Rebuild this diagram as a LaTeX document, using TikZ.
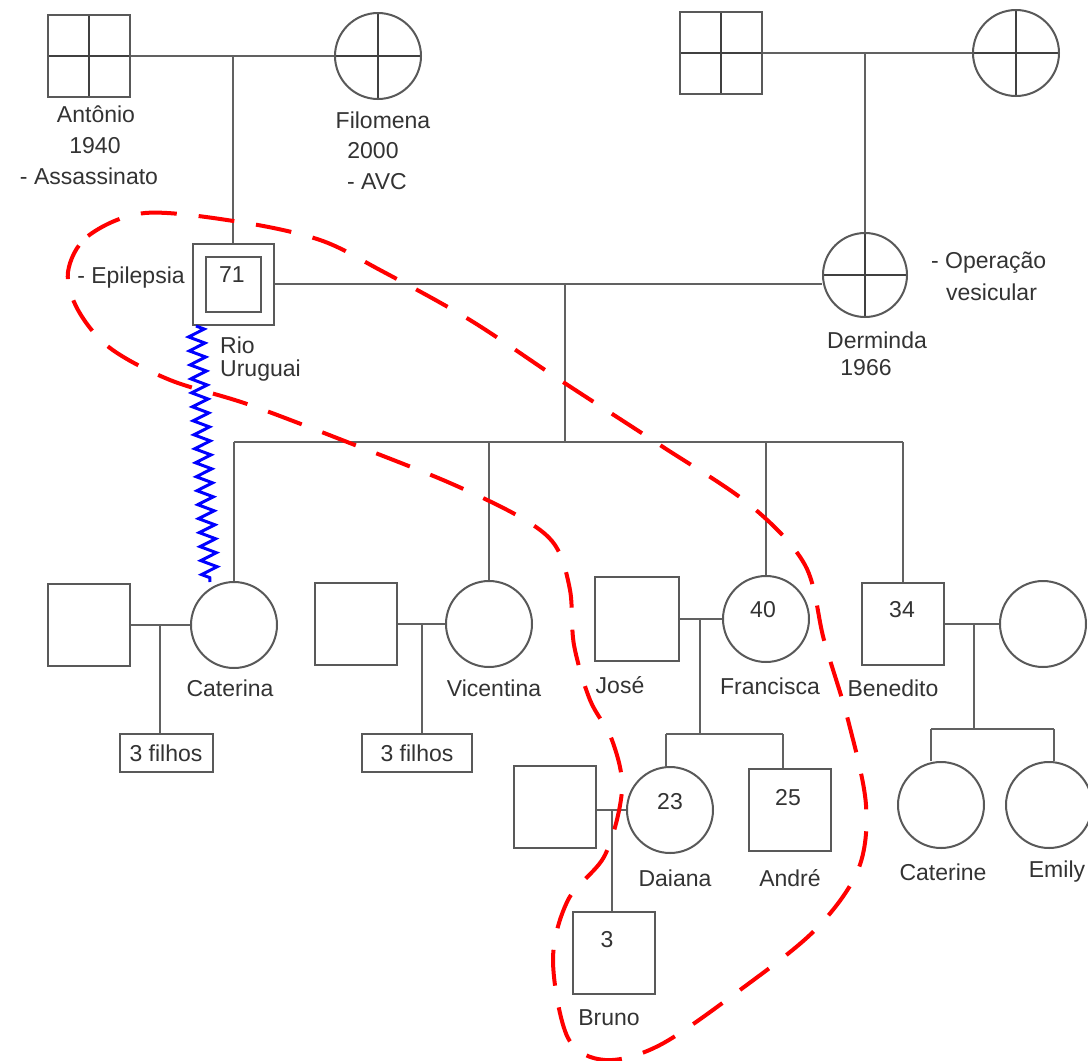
\documentclass[tikz,border=0pt]{standalone}
\usepackage{fontspec}
\setmainfont{Liberation Sans}
\usetikzlibrary{decorations.pathmorphing}
\begin{document}
\begin{tikzpicture}[x=1pt,y=-1pt,
  ln/.style={draw=black!62, line width=2pt},
  male/.style={draw=black!65, line width=2pt, rectangle, minimum size=82pt, inner sep=0pt},
  female/.style={draw=black!65, line width=2pt, circle, minimum size=86pt, inner sep=0pt},
  dead/.style={path picture={\draw[black!75,line width=2pt] (path picture bounding box.north) -- (path picture bounding box.south) (path picture bounding box.west) -- (path picture bounding box.east);}},
  lbl/.style={font=\fontsize{23}{27}\selectfont, text=black!80, inner sep=0pt},
  fbox/.style={draw=black!65, line width=2pt, rectangle, minimum height=38pt, inner sep=0pt, font=\fontsize{23}{27}\selectfont, text=black!80},
  zig/.style={draw=blue, line width=3pt, decorate, decoration={zigzag, segment length=14pt, amplitude=8pt}},
  loop/.style={draw=red, line width=4pt, dash pattern=on 36pt off 22pt}
]
\useasboundingbox[fill=white] (0,0) rectangle (1088,1061);

% generation I
\node[male,dead] (antonio) at (89,56) {};
\node[female,dead] (filomena) at (378,56) {};
\node[male,dead] (gfm) at (721,53) {};
\node[female,dead] (gfw) at (1016,53) {};
\draw[ln] (antonio) -- (filomena);
\draw[ln] (gfm) -- (gfw);
\node[lbl] (tant) at (96,114) {Antônio};
\node[lbl] (tant2) at (95,146) {1940};
\node[lbl] (tant3) at (89,176) {- Assassinato};
\node[lbl] (tfil) at (383,120) {Filomena};
\node[lbl] (tfil2) at (373,151) {2000};
\node[lbl] (tfil3) at (377,182) {- AVC};

% generation II
\node[male, minimum size=81pt] (p71) at (233,284) {};
\node[male, minimum size=55pt] (p71in) at (233,284) {};
\node[lbl] (t71) at (232,275) {71};
\node[female,dead,minimum size=84pt] (derminda) at (865,275) {};
\coordinate (c1) at (233,56);
\coordinate (c2) at (865,53);
\draw[ln] (c1) -- (p71);
\draw[ln] (c2) -- (derminda);
\draw[ln] (p71.east) -- (p71.east -| derminda.west);
\node[lbl] (tepi) at (131,278) {- Epilepsia};
\node[lbl, anchor=west] (trio) at (220,345) {Rio};
\node[lbl, anchor=west] (truru) at (220,371) {Uruguai};
\node[lbl, anchor=west] (top1) at (931,263) {- Operação};
\node[lbl, anchor=west] (top2) at (946,292) {vesicular};
\node[lbl] (tder) at (877,340) {Derminda};
\node[lbl] (tder2) at (866,368) {1966};

% generation III
\coordinate (c3) at (565,284);
\coordinate (bar1) at (565,442);
\draw[ln] (c3) -- (bar1);
\node[male] (hcat) at (89,625) {};
\node[female] (caterina) at (234,625) {};
\node[male] (hvic) at (356,624) {};
\node[female] (vicentina) at (489,624) {};
\node[male, minimum size=84pt] (jose) at (637,619) {};
\node[female] (francisca) at (766,619) {};
\node[male] (benedito) at (903,624) {};
\node[female] (bwife) at (1043,624) {};
\draw[ln] (caterina.north |- bar1) -- (benedito.north |- bar1);
\draw[ln] (caterina.north |- bar1) -- (caterina.north);
\draw[ln] (vicentina.north |- bar1) -- (vicentina.north);
\draw[ln] (francisca.north |- bar1) -- (francisca.north);
\draw[ln] (benedito.north |- bar1) -- (benedito.north);
\draw[ln] (hcat) -- (caterina);
\draw[ln] (hvic) -- (vicentina);
\draw[ln] (jose) -- (francisca);
\draw[ln] (benedito) -- (bwife);
\node[lbl] (tcat) at (230,688) {Caterina};
\node[lbl] (tvic) at (494,688) {Vicentina};
\node[lbl] (tjos) at (620,685) {José};
\node[lbl] (tfra) at (770,686) {Francisca};
\node[lbl] (tben) at (893,688) {Benedito};
\node[lbl] (t40) at (763,610) {40};
\node[lbl] (t34) at (902,610) {34};

% 3 filhos boxes
\node[fbox, minimum width=93pt] (f1) at (166,753) {3 filhos};
\node[fbox, minimum width=110pt] (f2) at (417,753) {3 filhos};
\coordinate (c4) at (160,625);
\coordinate (c5) at (422,624);
\draw[ln] (c4) -- (c4 |- f1.north);
\draw[ln] (c5) -- (c5 |- f2.north);

% generation IV
\coordinate (c6) at (700,619);
\coordinate (bar2) at (700,734);
\draw[ln] (c6) -- (bar2);
\node[female] (daiana) at (670,810) {};
\node[male] (andre) at (790,810) {};
\coordinate (d1) at (666,734);
\coordinate (d2) at (783,734);
\draw[ln] (d1) -- (d2);
\draw[ln] (d1) -- (d1 |- daiana.north);
\draw[ln] (d2) -- (d2 |- andre.north);
\node[lbl] (t23) at (670,802) {23};
\node[lbl] (t25) at (788,798) {25};
\node[lbl] (tdai) at (675,878) {Daiana};
\node[lbl] (tand) at (790,878) {André};

\coordinate (c7) at (974,624);
\coordinate (bar3) at (974,729);
\draw[ln] (c7) -- (bar3);
\node[female] (caterine) at (941,805) {};
\node[female] (emily) at (1049,805) {};
\coordinate (d3) at (931,729);
\coordinate (d4) at (1054,729);
\draw[ln] (d3) -- (d4);
\draw[ln] (d3) -- (d3 |- caterine.north);
\draw[ln] (d4) -- (d4 |- emily.north);
\node[lbl] (tcte) at (943,872) {Caterine};
\node[lbl] (temi) at (1057,872) {Emily};

% generation V
\node[male] (hdai) at (555,807) {};
\draw[ln] (hdai.east |- daiana) -- (daiana);
\node[male] (bruno) at (614,953) {};
\coordinate (c8) at (612,810);
\draw[ln] (c8) -- (c8 |- bruno.north);
\node[lbl] (t3) at (607,940) {3};
\node[lbl] (tbru) at (609,1018) {Bruno};

% blue zigzag
\coordinate (z1) at (196,326);
\coordinate (z2) at (210,582);
\draw[zig] (z1) -- (z2);

% red dashed loop
\draw[loop] plot[smooth cycle, tension=0.55] coordinates {
 (68,272) (88,236) (145,213) (240,222) (320,240) (380,270) (470,320) (560,380)
 (660,445) (750,505) (805,565) (824,640) (848,720) (866,805) (858,870) (815,930)
 (740,990) (660,1045) (605,1060) (568,1038) (553,960) (568,900) (605,855) (622,790)
 (612,740) (590,700) (574,645) (570,590) (555,545) (520,517) (450,483) (360,447)
 (250,405) (170,380) (110,348) (78,310)};
\end{tikzpicture}
\end{document}
